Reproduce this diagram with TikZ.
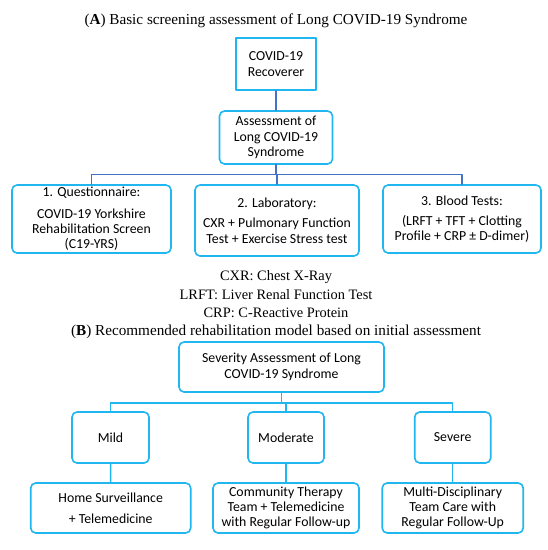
\documentclass[tikz,border=0pt]{standalone}
\usepackage{fontspec}
\setmainfont{Liberation Serif}
\newfontfamily\boxfont{Carlito}
\usepackage{tikz}
\definecolor{boxblue}{RGB}{32,182,240}
\definecolor{linkblue}{RGB}{68,114,196}

\begin{document}
\begin{tikzpicture}[x=1pt, y=-1pt, line cap=round, line join=round,
    box/.style={draw=boxblue, line width=1.6pt, align=center, inner sep=0pt, font=\boxfont\fontsize{13.8}{15.3}\selectfont},
    rbox/.style={box, rounded corners=5pt},
    caption/.style={font=\fontsize{14.4}{18}\selectfont},
    heading/.style={font=\fontsize{15.2}{18}\selectfont},
    topline/.style={draw=linkblue, line width=1.1pt},
    botline/.style={draw=boxblue, line width=1.4pt}]
    \useasboundingbox (0,0) rectangle (548,550);
    \draw(276,21) node[heading] (titleA) {(\textbf{A}) Basic screening assessment of Long COVID-19 Syndrome};
    \draw(276,64) node[box, minimum width=80, minimum height=52] (recov) {COVID-19\\Recoverer};
    \draw(276,137.5) node[rbox, minimum width=113, minimum height=53] (assess) {Assessment of\\Long COVID-19\\Syndrome};
    \draw(91.5,219) node[rbox, minimum width=159, minimum height=68] (quest) {1. Questionnaire:\\[6pt]COVID-19 Yorkshire\\Rehabilitation Screen\\(C19-YRS)};
    \draw(277,220.5) node[rbox, minimum width=164, minimum height=71] (lab) {2. Laboratory:\\[5pt]CXR + Pulmonary Function\\Test + Exercise Stress test};
    \draw(462,219) node[rbox, minimum width=158, minimum height=68] (blood) {3. Blood Tests:\\[5pt](LRFT + TFT + Clotting\\Profile + CRP ± D-dimer)};
    \draw(276,277) node[caption] (cxr) {CXR: Chest X-Ray};
    \draw(276,295) node[caption] (lrft) {LRFT: Liver Renal Function Test};
    \draw(276,313) node[caption] (crp) {CRP: C-Reactive Protein};
    \draw(276,332) node[heading] (titleB) {(\textbf{B}) Recommended rehabilitation model based on initial assessment};
    \draw(281.5,367) node[rbox, minimum width=205, minimum height=50] (sev) {Severity Assessment of Long\\COVID-19 Syndrome};
    \draw(110.5,437.5) node[rbox, minimum width=77, minimum height=51] (mild) {Mild};
    \draw(286,437.5) node[rbox, minimum width=76, minimum height=51] (moder) {Moderate};
    \draw(452.7,437.5) node[rbox, minimum width=76, minimum height=51] (severe) {Severe};
    \draw(110.7,508) node[rbox, minimum width=160, minimum height=50] (home) {Home Surveillance\\[6pt]+ Telemedicine};
    \draw(286,508) node[rbox, minimum width=146, minimum height=50] (commu) {Community Therapy\\Team + Telemedicine\\with Regular Follow-up};
    \draw(452.7,508) node[rbox, minimum width=141, minimum height=50] (multi) {Multi-Disciplinary\\Team Care with\\Regular Follow-Up};
    \draw[topline] (recov) -- (assess);
    \draw[topline] (assess.south) -- ++(0,10) -| (quest.north);
    \draw[topline] (assess.south) -- ++(0,10) -| (lab.north);
    \draw[topline] (assess.south) -- ++(0,10) -| (blood.north);
    \draw[botline] (sev.south) -- ++(0,10) -| (mild.north);
    \draw[botline] (sev.south) -- ++(0,10) -| (moder.north);
    \draw[botline] (sev.south) -- ++(0,10) -| (severe.north);
    \draw[botline] (mild) -- (home);
    \draw[botline] (moder) -- (commu);
    \draw[botline] (severe) -- (multi);
\end{tikzpicture}
\end{document}
